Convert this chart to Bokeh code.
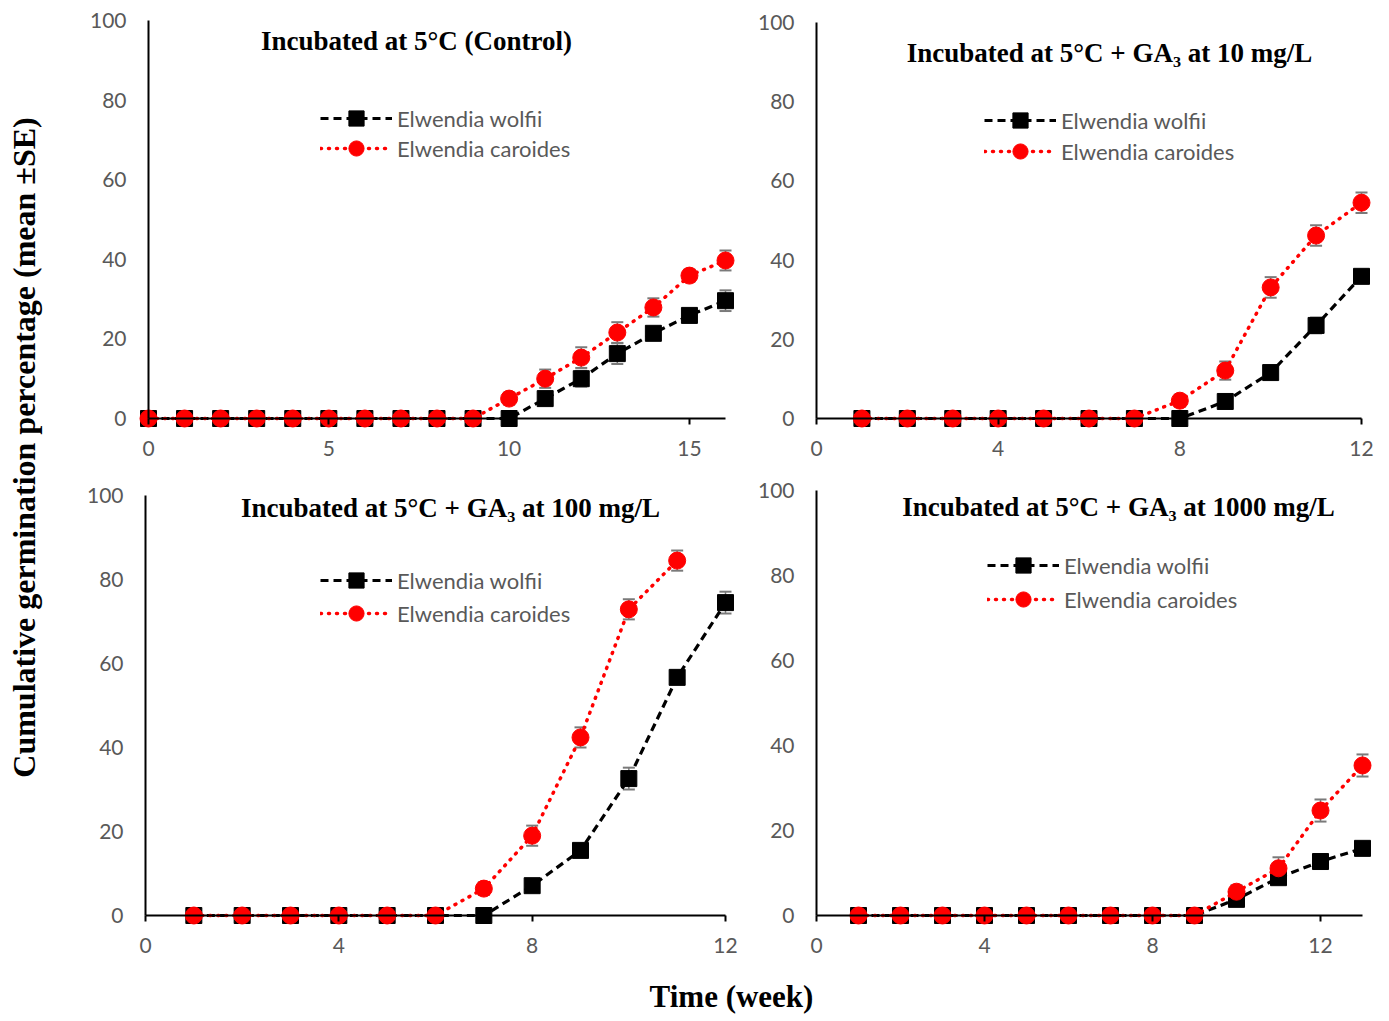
import math
from bokeh.plotting import figure
from bokeh.models import (Range1d, ColumnDataSource, Whisker, TeeHead, Legend,
                          LegendItem, Label, FixedTicker)
from bokeh.layouts import row, column
from bokeh.embed import file_html
from bokeh.resources import INLINE

# ---------------- data ----------------
y_ticks = [0, 20, 40, 60, 80, 100]

# Panel 1: Incubated at 5°C (Control)
weeks_1 = [0, 1, 2, 3, 4, 5, 6, 7, 8, 9, 10, 11, 12, 13, 14, 15, 16]
wolfii_1 = [0, 0, 0, 0, 0, 0, 0, 0, 0, 0, 0, 5.0, 10.0, 16.3, 21.4, 25.9, 29.6]
wolfii_1_se = [0, 0, 0, 0, 0, 0, 0, 0, 0, 0, 0, 1.5, 2.0, 2.6, 1.5, 1.5, 2.6]
caroides_1 = [0, 0, 0, 0, 0, 0, 0, 0, 0, 0, 5.0, 10.0, 15.3, 21.6, 27.9, 35.9, 39.7]
caroides_1_se = [0, 0, 0, 0, 0, 0, 0, 0, 0, 0, 1.5, 2.3, 2.6, 2.6, 2.3, 1.5, 2.5]
x_ticks_1 = [0, 5, 10, 15]

# Panel 2: GA3 10 mg/L
weeks_2 = [1, 2, 3, 4, 5, 6, 7, 8, 9, 10, 11, 12]
wolfii_2 = [0, 0, 0, 0, 0, 0, 0, 0, 4.3, 11.6, 23.5, 35.9]
wolfii_2_se = [0, 0, 0, 0, 0, 0, 0, 0, 1.0, 1.5, 2.0, 1.5]
caroides_2 = [0, 0, 0, 0, 0, 0, 0, 4.5, 12.1, 33.1, 46.2, 54.5]
caroides_2_se = [0, 0, 0, 0, 0, 0, 0, 1.5, 2.3, 2.6, 2.6, 2.6]
x_ticks_2 = [0, 4, 8, 12]

# Panel 3: GA3 100 mg/L
weeks_3w = [1, 2, 3, 4, 5, 6, 7, 8, 9, 10, 11, 12]
wolfii_3 = [0, 0, 0, 0, 0, 0, 0, 7.1, 15.5, 32.6, 56.7, 74.5]
wolfii_3_se = [0, 0, 0, 0, 0, 0, 0, 1.5, 1.5, 2.6, 1.5, 2.6]
weeks_3c = [1, 2, 3, 4, 5, 6, 7, 8, 9, 10, 11]
caroides_3 = [0, 0, 0, 0, 0, 0, 6.4, 19.0, 42.4, 72.9, 84.5]
caroides_3_se = [0, 0, 0, 0, 0, 0, 1.5, 2.4, 2.4, 2.4, 2.4]
x_ticks_3 = [0, 4, 8, 12]

# Panel 4: GA3 1000 mg/L
weeks_4 = [1, 2, 3, 4, 5, 6, 7, 8, 9, 10, 11, 12, 13]
wolfii_4 = [0, 0, 0, 0, 0, 0, 0, 0, 0, 3.8, 8.9, 12.7, 15.8]
wolfii_4_se = [0, 0, 0, 0, 0, 0, 0, 0, 0, 1.0, 1.5, 1.5, 1.5]
caroides_4 = [0, 0, 0, 0, 0, 0, 0, 0, 0, 5.6, 11.1, 24.7, 35.3]
caroides_4_se = [0, 0, 0, 0, 0, 0, 0, 0, 0, 1.5, 2.6, 2.6, 2.6]
x_ticks_4 = [0, 4, 8, 12]

titles = ["Incubated at 5°C (Control)",
          "Incubated at 5°C + GA₃ at 10 mg/L",
          "Incubated at 5°C + GA₃ at 100 mg/L",
          "Incubated at 5°C + GA₃ at 1000 mg/L"]
label_wolfii = "Elwendia wolfii"
label_caroides = "Elwendia caroides"
y_label = "Cumulative germination percentage (mean ±SE)"
x_label = "Time (week)"

# ---------------- styling ----------------
TICK_FONT = "Lato"
TICK_COLOR = "#595959"
SERIF = "Liberation Serif"
ERR_COLOR = "#7a7a7a"
GLYPH_H = 38


def panel(fig_left, fig_top, fig_w, fig_h, ax, xmax, xticks, title, title_pos,
          leg_x, leg_centers, series):
    ax_l, ax_r, ax_t, ax_b = ax
    xs = (ax_r - ax_l) / xmax
    ys = (ax_b - ax_t) / 100.0
    p = figure(width=fig_w, height=fig_h, title=None,
               x_range=Range1d(-(ax_l - fig_left) / xs,
                               xmax + (fig_left + fig_w - ax_r) / xs),
               y_range=Range1d(-(fig_top + fig_h - ax_b) / ys,
                               100 + (ax_t - fig_top) / ys),
               output_backend="svg", toolbar_location=None, min_border=0)
    p.outline_line_color = None
    p.grid.visible = False
    p.background_fill_color = "white"
    p.border_fill_color = "white"

    xa = p.xaxis[0]
    xa.fixed_location = 0
    xa.bounds = (0, xmax)
    xa.ticker = FixedTicker(ticks=xticks)
    xa.major_tick_in = 0
    xa.major_tick_out = 6
    xa.minor_tick_line_color = None
    xa.axis_line_width = 2
    xa.major_tick_line_width = 2
    xa.axis_line_color = "black"
    xa.major_tick_line_color = "black"
    xa.major_label_text_font = TICK_FONT
    xa.major_label_text_font_size = "21px"
    xa.major_label_text_color = TICK_COLOR
    xa.major_label_standoff = 16

    ya = p.yaxis[0]
    ya.fixed_location = 0
    ya.bounds = (0, 100)
    ya.ticker = FixedTicker(ticks=y_ticks)
    ya.major_tick_in = 0
    ya.major_tick_out = 0
    ya.minor_tick_line_color = None
    ya.axis_line_width = 2
    ya.axis_line_color = "black"
    ya.major_label_text_font = TICK_FONT
    ya.major_label_text_font_size = "21px"
    ya.major_label_text_color = TICK_COLOR
    ya.major_label_standoff = 22

    fig_bottom = fig_top + fig_h
    for (x, y, se, color, marker, size, dash, lw, label), cy in zip(series, leg_centers):
        xe = [a for a, s in zip(x, se) if s > 0]
        up = [b + s for b, s in zip(y, se) if s > 0]
        lo = [b - s for b, s in zip(y, se) if s > 0]
        src = ColumnDataSource(dict(x=xe, upper=up, lower=lo))
        w = Whisker(source=src, base="x", upper="upper", lower="lower",
                    line_color=ERR_COLOR, line_width=1.5, level="underlay",
                    upper_head=TeeHead(size=12, line_color=ERR_COLOR, line_width=2),
                    lower_head=TeeHead(size=12, line_color=ERR_COLOR, line_width=2))
        p.add_layout(w)
        ln = p.line(x, y, line_color=color, line_width=lw, line_dash=dash,
                    line_cap="round" if dash == "1 7" else "butt")
        sc = p.scatter(x, y, marker=marker, size=size, fill_color=color,
                       line_color=color)
        leg = Legend(items=[LegendItem(label=label, renderers=[ln, sc])],
                     location=(leg_x - fig_left, fig_bottom - (cy + GLYPH_H / 2)),
                     padding=0, margin=0, border_line_color=None,
                     background_fill_alpha=0, glyph_width=72, glyph_height=GLYPH_H,
                     label_height=GLYPH_H, label_standoff=5, spacing=0,
                     label_text_font=TICK_FONT, label_text_font_size="22px",
                     label_text_color=TICK_COLOR, label_text_baseline="middle")
        p.add_layout(leg, "center")

    p.add_layout(Label(x=(title_pos[0] - ax_l) / xs, y=(ax_b - title_pos[1]) / ys,
                       text=title, text_font=SERIF, text_font_style="bold",
                       text_font_size="27px", text_align="center",
                       text_baseline="middle", text_color="black"))
    return p


def two_series(xw, yw, sw, xc, yc, sc):
    return [
        (xw, yw, sw, "black", "square", 16, "8 5", 3.2, label_wolfii),
        (xc, yc, sc, "red", "circle", 17, "1 7", 3.5, label_caroides),
    ]


# page geometry (page pixel coordinates)
LEFT_W = 58
W1, W2 = 687, 635
H1, H2 = 470, 490
X1 = LEFT_W
X2 = X1 + W1

p1 = panel(X1, 0, W1, H1, (148, 725, 20, 418), 16, x_ticks_1, titles[0],
           (416, 40), 320, (118, 148),
           two_series(weeks_1, wolfii_1, wolfii_1_se, weeks_1, caroides_1, caroides_1_se))
p2 = panel(X2, 0, W2, H1, (816, 1361, 22, 418), 12, x_ticks_2, titles[1],
           (1109, 52), 984, (120, 151),
           two_series(weeks_2, wolfii_2, wolfii_2_se, weeks_2, caroides_2, caroides_2_se))
p3 = panel(X1, H1, W1, H2, (145, 725, 495, 915), 12, x_ticks_3, titles[2],
           (450, 507), 320, (580, 613),
           two_series(weeks_3w, wolfii_3, wolfii_3_se, weeks_3c, caroides_3, caroides_3_se))
p4 = panel(X2, H1, W2, H2, (816, 1362, 490, 915), 13, x_ticks_4, titles[3],
           (1118, 506), 987, (565, 599),
           two_series(weeks_4, wolfii_4, wolfii_4_se, weeks_4, caroides_4, caroides_4_se))

# y label strip
HL = H1 + H2
ylab = figure(width=LEFT_W, height=HL, x_range=Range1d(0, LEFT_W), y_range=Range1d(0, HL),
              output_backend="svg", toolbar_location=None, title=None,
              x_axis_location=None, y_axis_location=None, min_border=0)
ylab.outline_line_color = None
ylab.grid.visible = False
ylab.add_layout(Label(x=23, y=HL - 447, text=y_label, angle=math.pi / 2,
                      text_font=SERIF, text_font_style="bold", text_font_size="32px",
                      text_align="center", text_baseline="middle", text_color="black"))

# x label strip
WT = LEFT_W + W1 + W2
HX = 58
xlab = figure(width=WT, height=HX, x_range=Range1d(0, WT), y_range=Range1d(0, HX),
              output_backend="svg", toolbar_location=None, title=None,
              x_axis_location=None, y_axis_location=None, min_border=0)
xlab.outline_line_color = None
xlab.grid.visible = False
xlab.add_layout(Label(x=731, y=HX - (996 - HL), text=x_label,
                      text_font=SERIF, text_font_style="bold", text_font_size="31px",
                      text_align="center", text_baseline="middle", text_color="black"))

layout = column(row(ylab, column(row(p1, p2), row(p3, p4))), xlab)

open("out.html", "w").write(file_html(layout, INLINE))
